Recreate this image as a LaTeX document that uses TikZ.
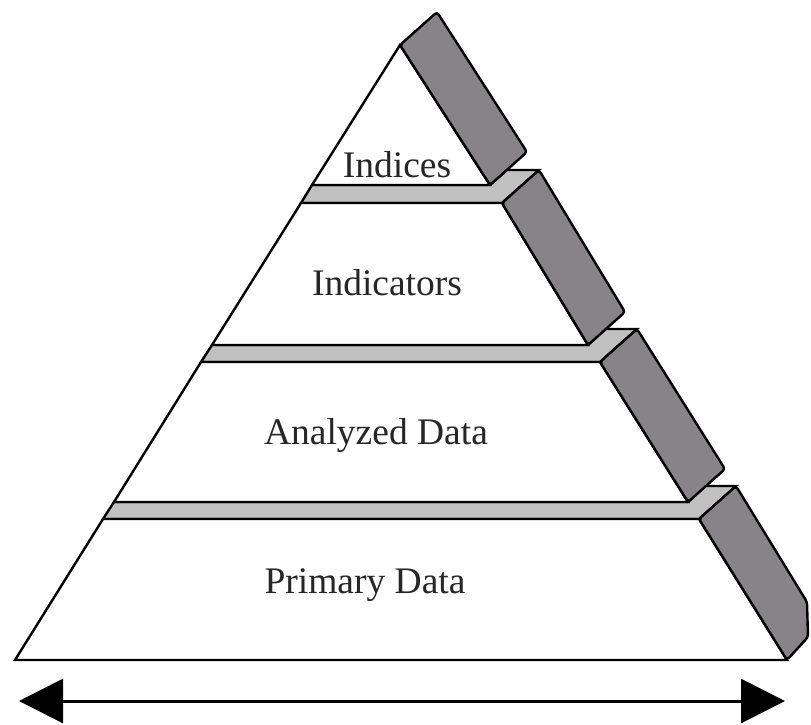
\documentclass[tikz,border=0pt]{standalone}
\usepackage{fontspec}
\setmainfont{Liberation Serif}
\usetikzlibrary{arrows.meta}
\definecolor{slabgray}{RGB}{134,132,134}
\definecolor{ledgegray}{RGB}{192,192,192}
\tikzset{
  tierface/.style={draw=black,fill=white,line width=2.4pt,line join=miter},
  ledge/.style={draw=black,fill=ledgegray,line width=2.4pt,line join=miter},
  sideslab/.style={draw=black,fill=slabgray,line width=2.4pt,rounded corners=3pt},
  tierlabel/.style={anchor=base,font=\fontsize{37.5}{40}\selectfont,text=black!85}
}

\begin{document}
\begin{tikzpicture}[x=1pt,y=-1pt]
  \useasboundingbox (0,0) rectangle (811,724);
  % corners of the front faces
  \coordinate (apex) at (400,45);
  \coordinate (b1) at (490,185); \coordinate (t2) at (502,203);
  \coordinate (b2) at (588,345); \coordinate (t3) at (600,362);
  \coordinate (b3) at (688,502); \coordinate (t4) at (699,519);
  \coordinate (b4) at (787,660);
  % ledges
  \draw[ledge] (312,185) -- (b1) -- (507,170) -- (539,170) -- (t2) -- (301,203) -- cycle;
  \draw[ledge] (212,345) -- (b2) -- (605,329) -- (637,329) -- (t3) -- (201,362) -- cycle;
  \draw[ledge] (114,502) -- (b3) -- (705,486) -- (736,486) -- (t4) -- (103,519) -- cycle;
  % front faces
  \draw[tierface] (apex) -- (b1) -- (312,185) -- cycle;
  \draw[tierface] (301,203) -- (t2) -- (b2) -- (212,345) -- cycle;
  \draw[tierface] (201,362) -- (t3) -- (b3) -- (114,502) -- cycle;
  \draw[tierface] (103,519) -- (t4) -- (b4) -- (15,660) -- cycle;
  % side slabs
  \draw[sideslab] (apex) -- (437,12) -- (527,152) -- (b1) -- cycle;
  \draw[sideslab] (t2) -- (539,170) -- (625,312) -- (b2) -- cycle;
  \draw[sideslab] (t3) -- (637,329) -- (725,469) -- (b3) -- cycle;
  \draw[sideslab] (t4) -- (736,486) -- (807,602) -- (808,637) -- (b4) -- cycle;
  % labels
  \node[tierlabel] (indices) at (397,177) {Indices};
  \node[tierlabel] (indicators) at (387,295) {Indicators};
  \node[tierlabel] (analyzed) at (376,444) {Analyzed Data};
  \node[tierlabel] (primary) at (365,593) {Primary Data};
  % double arrow below
  \coordinate (arrowL) at (19,701);
  \coordinate (arrowR) at (785,701);
  \draw[line width=3pt,{Triangle[length=44pt,width=44pt]}-{Triangle[length=44pt,width=44pt]}] (arrowL) -- (arrowR);
\end{tikzpicture}
\end{document}
